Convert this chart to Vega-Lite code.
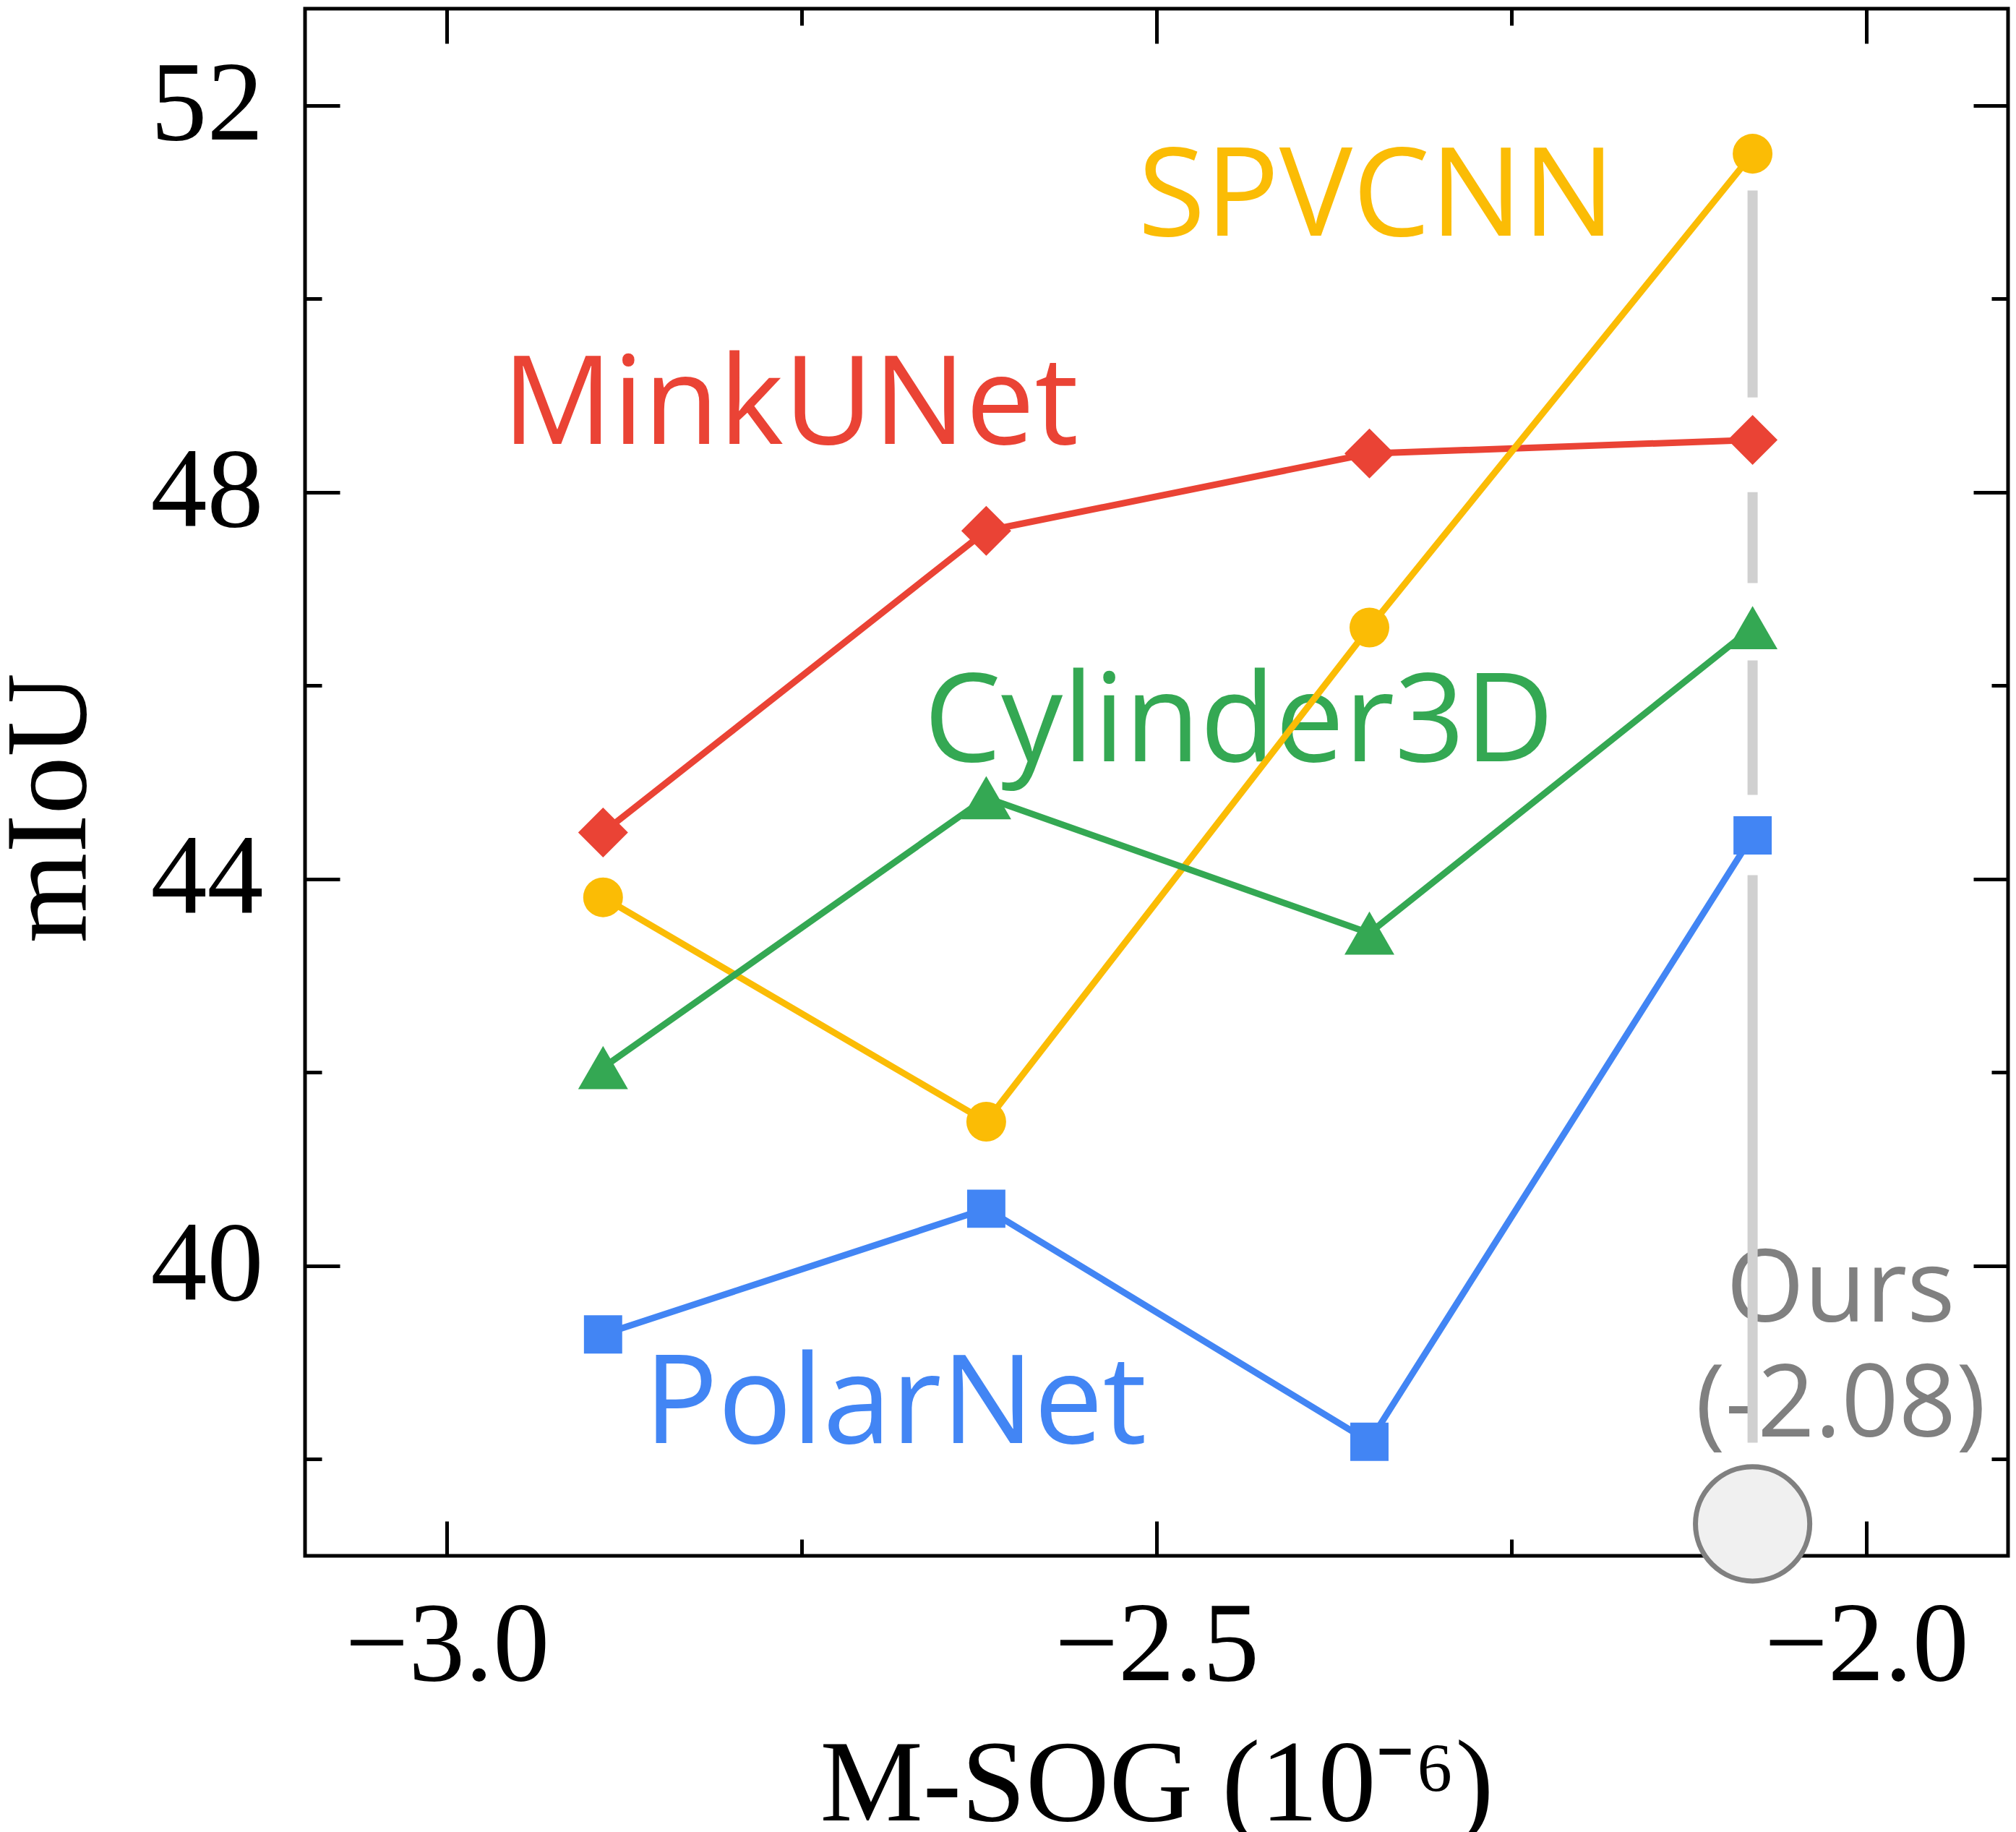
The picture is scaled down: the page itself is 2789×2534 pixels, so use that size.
{
  "$schema": "https://vega.github.io/schema/vega-lite/v6.json",
  "width": 2356,
  "height": 2140,
  "autosize": {"type": "none"},
  "padding": {"left": 422, "top": 12, "right": 11, "bottom": 382},
  "background": "white",
  "config": {
    "view": {"stroke": "black", "strokeWidth": 5},
    "axis": {
      "domain": false, "grid": false, "tickColor": "black", "tickWidth": 5,
      "labelFont": "Liberation Serif", "labelFontSize": 156, "labelColor": "black", "labelLimit": 2000,
      "titleFont": "Liberation Serif", "titleFontSize": 160, "titleFontWeight": "normal", "titleColor": "black", "titleLimit": 3000,
      "labelFlush": false, "labelOverlap": false
    }
  },
  "datasets": {
    "series": [
      {"method": "MinkUNet", "msog": -2.89, "miou": 44.48},
      {"method": "MinkUNet", "msog": -2.62, "miou": 47.60},
      {"method": "MinkUNet", "msog": -2.35, "miou": 48.40},
      {"method": "MinkUNet", "msog": -2.08, "miou": 48.54},
      {"method": "SPVCNN", "msog": -2.89, "miou": 43.81},
      {"method": "SPVCNN", "msog": -2.62, "miou": 41.49},
      {"method": "SPVCNN", "msog": -2.35, "miou": 46.60},
      {"method": "SPVCNN", "msog": -2.08, "miou": 51.50},
      {"method": "Cylinder3D", "msog": -2.89, "miou": 42.05},
      {"method": "Cylinder3D", "msog": -2.62, "miou": 44.84},
      {"method": "Cylinder3D", "msog": -2.35, "miou": 43.44},
      {"method": "Cylinder3D", "msog": -2.08, "miou": 46.60},
      {"method": "PolarNet", "msog": -2.89, "miou": 39.29},
      {"method": "PolarNet", "msog": -2.62, "miou": 40.59},
      {"method": "PolarNet", "msog": -2.35, "miou": 38.18},
      {"method": "PolarNet", "msog": -2.08, "miou": 44.45}
    ],
    "segments": [
      {"msog": -2.08, "y_start": 51.12, "y_end": 48.98},
      {"msog": -2.08, "y_start": 48.00, "y_end": 47.06},
      {"msog": -2.08, "y_start": 46.26, "y_end": 44.87},
      {"msog": -2.08, "y_start": 44.04, "y_end": 38.17}
    ],
    "labels": [
      {"text": "SPVCNN", "method": "SPVCNN", "msog": -2.345, "miou": 50.65},
      {"text": "MinkUNet", "method": "MinkUNet", "msog": -2.758, "miou": 48.50},
      {"text": "Cylinder3D", "method": "Cylinder3D", "msog": -2.442, "miou": 45.22},
      {"text": "PolarNet", "method": "PolarNet", "msog": -2.684, "miou": 38.17}
    ],
    "ours_labels": [
      {"text": "Ours", "msog": -2.018, "miou": 39.42},
      {"text": "(-2.08)", "msog": -2.018, "miou": 38.23}
    ],
    "ours": [{"msog": -2.08, "miou": 37.33}]
  },
  "resolve": {"axis": {"x": "independent", "y": "independent"}},
  "layer": [
    {
      "data": {"name": "labels"},
      "mark": {"type": "text", "font": "Open Sans", "fontSize": 170, "align": "center", "baseline": "alphabetic"},
      "encoding": {
        "x": {"field": "msog", "type": "quantitative", "scale": {"domain": [-3.1, -1.9], "nice": false, "zero": false},
          "axis": {"orient": "bottom", "values": [-3, -2.5, -2], "format": ".1f", "ticks": false, "labelPadding": 171, "labelBaseline": "alphabetic",
            "title": "M-SOG (10⁻⁶)", "titleY": 365, "titleBaseline": "alphabetic"}},
        "y": {"field": "miou", "type": "quantitative", "scale": {"domain": [37, 53], "nice": false, "zero": false},
          "axis": {"orient": "left", "values": [40, 44, 48, 52], "format": "d", "ticks": false, "labelPadding": 58,
            "title": "mIoU", "titleX": -305, "titleY": 1105, "titleBaseline": "alphabetic", "titleAlign": "center", "titleAngle": 270}},
        "text": {"field": "text", "type": "nominal"},
        "color": {"field": "method", "type": "nominal", "legend": null,
          "scale": {"domain": ["MinkUNet", "SPVCNN", "Cylinder3D", "PolarNet"], "range": ["#EA4335", "#FBBC05", "#34A853", "#4285F4"]}}
      }
    },
    {
      "data": {"name": "ours_labels"},
      "mark": {"type": "text", "font": "Open Sans", "fontSize": 139, "align": "center", "baseline": "alphabetic", "color": "#808080"},
      "encoding": {
        "x": {"field": "msog", "type": "quantitative", "scale": {"domain": [-3.1, -1.9], "nice": false, "zero": false},
          "axis": {"orient": "bottom", "values": [-3, -2.5, -2], "labels": false, "tickSize": -48, "title": null}},
        "y": {"field": "miou", "type": "quantitative", "scale": {"domain": [37, 53], "nice": false, "zero": false},
          "axis": {"orient": "left", "values": [40, 44, 48, 52], "labels": false, "tickSize": -48, "title": null}},
        "text": {"field": "text", "type": "nominal"}
      }
    },
    {
      "data": {"name": "segments"},
      "mark": {"type": "rule", "color": "#d0d0d0", "strokeWidth": 14, "strokeCap": "butt"},
      "encoding": {
        "x": {"field": "msog", "type": "quantitative", "scale": {"domain": [-3.1, -1.9], "nice": false, "zero": false},
          "axis": {"orient": "bottom", "values": [-2.75, -2.25], "labels": false, "tickSize": -23, "title": null}},
        "y": {"field": "y_start", "type": "quantitative", "scale": {"domain": [37, 53], "nice": false, "zero": false},
          "axis": {"orient": "left", "values": [38, 42, 46, 50], "labels": false, "tickSize": -23, "title": null}},
        "y2": {"field": "y_end"}
      }
    },
    {
      "data": {"name": "series"},
      "mark": {"type": "line", "strokeWidth": 9},
      "encoding": {
        "x": {"field": "msog", "type": "quantitative", "scale": {"domain": [-3.1, -1.9], "nice": false, "zero": false},
          "axis": {"orient": "top", "values": [-3, -2.5, -2], "labels": false, "tickSize": -48, "title": null}},
        "y": {"field": "miou", "type": "quantitative", "scale": {"domain": [37, 53], "nice": false, "zero": false},
          "axis": {"orient": "right", "values": [40, 44, 48, 52], "labels": false, "tickSize": -48, "title": null}},
        "color": {"field": "method", "type": "nominal", "legend": null,
          "scale": {"domain": ["MinkUNet", "SPVCNN", "Cylinder3D", "PolarNet"], "range": ["#EA4335", "#FBBC05", "#34A853", "#4285F4"]}}
      }
    },
    {
      "data": {"name": "series"},
      "mark": {"type": "point", "filled": true, "opacity": 1, "strokeWidth": 0},
      "encoding": {
        "x": {"field": "msog", "type": "quantitative", "scale": {"domain": [-3.1, -1.9], "nice": false, "zero": false},
          "axis": {"orient": "top", "values": [-2.75, -2.25], "labels": false, "tickSize": -23, "title": null}},
        "y": {"field": "miou", "type": "quantitative", "scale": {"domain": [37, 53], "nice": false, "zero": false},
          "axis": {"orient": "right", "values": [38, 42, 46, 50], "labels": false, "tickSize": -23, "title": null}},
        "color": {"field": "method", "type": "nominal", "legend": null,
          "scale": {"domain": ["MinkUNet", "SPVCNN", "Cylinder3D", "PolarNet"], "range": ["#EA4335", "#FBBC05", "#34A853", "#4285F4"]}},
        "shape": {"field": "method", "type": "nominal", "legend": null,
          "scale": {"domain": ["MinkUNet", "SPVCNN", "Cylinder3D", "PolarNet"], "range": ["diamond", "circle", "triangle-up", "square"]}},
        "size": {"field": "method", "type": "nominal", "legend": null,
          "scale": {"type": "ordinal", "domain": ["MinkUNet", "SPVCNN", "Cylinder3D", "PolarNet"], "range": [4760, 3025, 4760, 2800]}}
      }
    },
    {
      "data": {"name": "ours"},
      "mark": {"type": "point", "shape": "circle", "filled": true, "fill": "#f0f0f0", "stroke": "#808080", "strokeWidth": 7, "size": 25000, "opacity": 1},
      "encoding": {
        "x": {"field": "msog", "type": "quantitative", "scale": {"domain": [-3.1, -1.9], "nice": false, "zero": false}, "axis": null},
        "y": {"field": "miou", "type": "quantitative", "scale": {"domain": [37, 53], "nice": false, "zero": false}, "axis": null}
      }
    }
  ]
}
